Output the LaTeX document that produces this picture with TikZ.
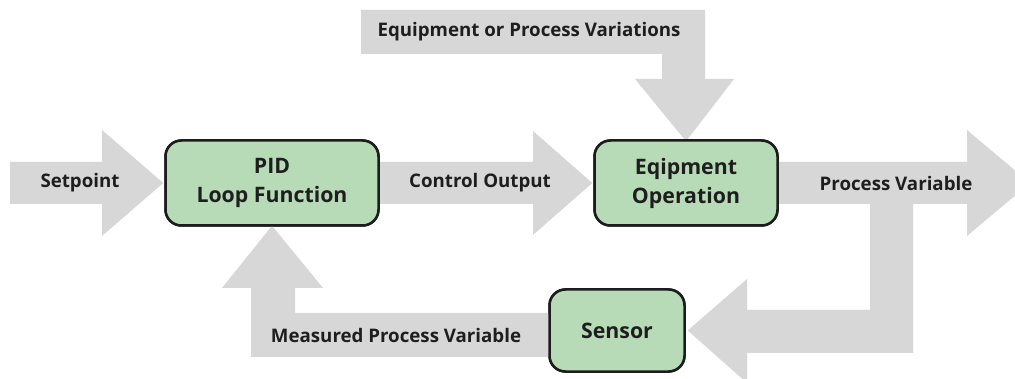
\documentclass[tikz,border=0pt]{standalone}
\usepackage{fontspec}
\setmainfont{Open Sans}
\definecolor{arrowgrey}{HTML}{D7D7D7}
\definecolor{boxgreen}{HTML}{B7DBB7}
\definecolor{boxline}{HTML}{1C1C1C}
\definecolor{textdark}{HTML}{1E1E1E}
\newcommand\lblfont{\fontsize{18.7}{29}\selectfont\bfseries}
\newcommand\boxfont{\fontsize{21.3}{29}\selectfont\bfseries}
\tikzset{
  blockbox/.style={draw=boxline, line width=2.5pt, fill=boxgreen, rounded corners=16pt,
    align=center, font=\boxfont, text=textdark, inner sep=0pt},
  band/.style={fill=arrowgrey, draw=none},
  lbl/.style={font=\lblfont, text=textdark, inner sep=0pt}
}
\begin{document}
\begin{tikzpicture}[x=1pt,y=-1pt]
\useasboundingbox[fill=white] (0,0) rectangle (1015,379);

% boxes (positioned first so arrows can refer to them)
\node[blockbox, minimum width=213pt, minimum height=85pt] (pid) at (272,183) {};
\node[blockbox, minimum width=183pt, minimum height=85pt] (eq) at (686,183) {};
\node[blockbox, minimum width=135pt, minimum height=82pt] (sensor) at (617,330.5) {};

% block arrows
\fill[band] (10,162) -- (102,162) -- (102,130) -- ([xshift=-1pt]pid.west) -- (102,236) -- (102,204) -- (10,204) -- cycle;
\fill[band] (370,162) -- (533,162) -- (533,131) -- ([xshift=-1pt]eq.west) -- (533,235) -- (533,204) -- (370,204) -- cycle;
\fill[band] (770,162) -- (967,162) -- (967,130) -- (1030,183) -- (967,236) -- (967,204)
  -- (913,204) -- (913,353) -- (747,353) -- (747,383) -- ([xshift=2pt]sensor.east)
  -- (747,279) -- (747,310) -- (870,310) -- (870,204) -- (770,204) -- cycle;
\fill[band] (560,313) -- (295,313) -- (295,288) -- (323,288) -- ([yshift=1pt]pid.south)
  -- (222,288) -- (251,288) -- (251,357) -- (560,357) -- cycle;
\fill[band] (361,10) -- (705,10) -- (705,79) -- (734,79) -- ([yshift=-2pt]eq.north)
  -- (635,79) -- (662,79) -- (662,54) -- (361,54) -- cycle;

% boxes drawn on top
\node[blockbox, minimum width=213pt, minimum height=85pt] (pidtop) at (pid) {PID\\Loop Function};
\node[blockbox, minimum width=183pt, minimum height=85pt] (eqtop) at (eq) {Eqipment\\Operation};
\node[blockbox, minimum width=135pt, minimum height=82pt] (sensortop) at (sensor) {Sensor};

% labels
\node[lbl] (setpoint) at (80,183) {Setpoint};
\node[lbl] (ctrl) at (480,183) {Control Output};
\node[lbl] (pv) at (896,183) {Process Variable};
\node[lbl] (dist) at (529,32) {Equipment or Process Variations};
\node[lbl] (mpv) at (396,335) {Measured Process Variable};
\end{tikzpicture}
\end{document}
